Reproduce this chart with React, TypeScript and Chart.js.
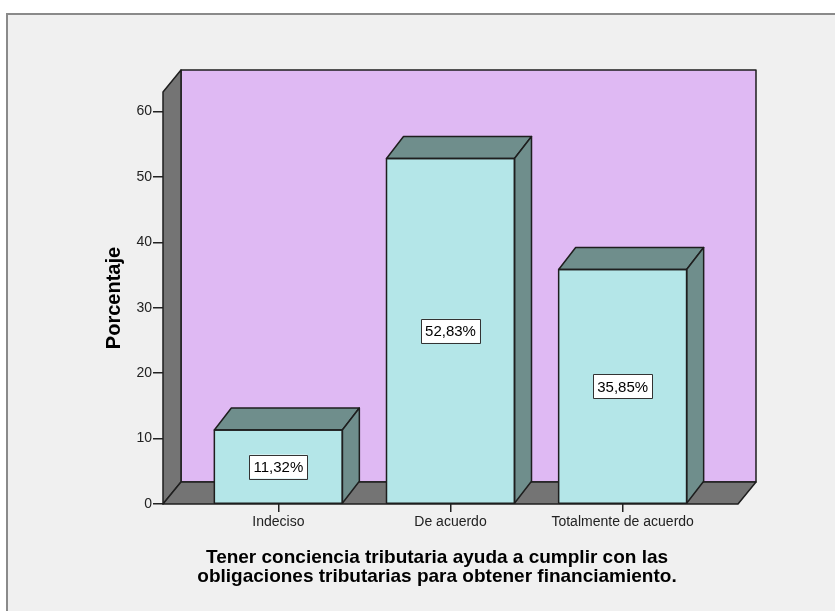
import React, { useEffect, useRef } from "react";
import { Chart, registerables } from "chart.js";

Chart.register(...registerables);

const categories = ["Indeciso", "De acuerdo", "Totalmente de acuerdo"];
const percentages = [11.32, 52.83, 35.85];
const valueLabels = ["11,32%", "52,83%", "35,85%"];
const yTickValues = [0, 10, 20, 30, 40, 50, 60];
const xTitleLines = [
  "Tener conciencia tributaria ayuda a cumplir con las",
  "obligaciones tributarias para obtener financiamiento.",
];
const yTitle = "Porcentaje";

const FONT = '"Liberation Sans", Arial, sans-serif';
const WALL_DX = 18;
const WALL_DY = -22;
const BAR_DX = 17;
const BAR_DY = -22;
const EDGE = "#1e1e1e";

const threeD = {
  id: "threeD",
  beforeDraw(chart: any) {
    const ctx = chart.ctx;
    ctx.save();
    ctx.fillStyle = "#ffffff";
    ctx.fillRect(0, 0, chart.width, chart.height);
    ctx.fillStyle = "#f0f0f0";
    ctx.fillRect(7, 13, chart.width, chart.height);
    ctx.strokeStyle = "#8a8a8a";
    ctx.lineWidth = 2;
    ctx.beginPath();
    ctx.moveTo(7, chart.height + 5);
    ctx.lineTo(7, 14);
    ctx.lineTo(chart.width + 5, 14);
    ctx.stroke();
    ctx.restore();
  },
  beforeDatasetsDraw(chart: any) {
    const { ctx, chartArea: a } = chart;
    const { left: L, right: R, top: T, bottom: B } = a;
    ctx.save();
    ctx.lineWidth = 1.5;
    ctx.strokeStyle = EDGE;
    ctx.lineJoin = "round";
    ctx.fillStyle = "#dfb9f3";
    ctx.beginPath();
    ctx.rect(L + WALL_DX, T + WALL_DY, R - L, B - T);
    ctx.fill();
    ctx.stroke();
    ctx.fillStyle = "#747474";
    ctx.beginPath();
    ctx.moveTo(L, B);
    ctx.lineTo(L, T);
    ctx.lineTo(L + WALL_DX, T + WALL_DY);
    ctx.lineTo(L + WALL_DX, B + WALL_DY);
    ctx.closePath();
    ctx.fill();
    ctx.stroke();
    ctx.beginPath();
    ctx.moveTo(L, B);
    ctx.lineTo(R, B);
    ctx.lineTo(R + WALL_DX, B + WALL_DY);
    ctx.lineTo(L + WALL_DX, B + WALL_DY);
    ctx.closePath();
    ctx.fill();
    ctx.stroke();
    ctx.restore();
  },
  afterDatasetsDraw(chart: any) {
    const ctx = chart.ctx;
    const meta = chart.getDatasetMeta(0);
    ctx.save();
    ctx.lineWidth = 1.5;
    ctx.strokeStyle = EDGE;
    ctx.lineJoin = "round";
    meta.data.forEach((el: any, i: number) => {
      const p = el.getProps(["x", "y", "base", "width"], true);
      const l = p.x - p.width / 2;
      const r = p.x + p.width / 2;
      const t = p.y;
      const b = p.base;
      ctx.fillStyle = "#6f8e8c";
      ctx.beginPath();
      ctx.moveTo(l, t);
      ctx.lineTo(l + BAR_DX, t + BAR_DY);
      ctx.lineTo(r + BAR_DX, t + BAR_DY);
      ctx.lineTo(r, t);
      ctx.closePath();
      ctx.fill();
      ctx.stroke();
      ctx.beginPath();
      ctx.moveTo(r, t);
      ctx.lineTo(r + BAR_DX, t + BAR_DY);
      ctx.lineTo(r + BAR_DX, b + BAR_DY);
      ctx.lineTo(r, b);
      ctx.closePath();
      ctx.fill();
      ctx.stroke();
      ctx.strokeRect(l, t, r - l, b - t);
      const txt = valueLabels[i];
      ctx.font = `15px ${FONT}`;
      const w = ctx.measureText(txt).width;
      const cy = (t + b) / 2;
      const bw = w + 8;
      const bh = 24;
      ctx.fillStyle = "#ffffff";
      ctx.fillRect(p.x - bw / 2, cy - bh / 2, bw, bh);
      ctx.lineWidth = 1;
      ctx.strokeStyle = "#333";
      ctx.strokeRect(Math.round(p.x - bw / 2) + 0.5, Math.round(cy - bh / 2) + 0.5, Math.round(bw), bh);
      ctx.fillStyle = "#000";
      ctx.textAlign = "center";
      ctx.textBaseline = "middle";
      ctx.fillText(txt, p.x, cy + 1);
      ctx.lineWidth = 1.5;
      ctx.strokeStyle = EDGE;
    });
    const a = chart.chartArea;
    ctx.fillStyle = "#000";
    ctx.font = `bold 19px ${FONT}`;
    ctx.textAlign = "center";
    ctx.textBaseline = "alphabetic";
    ctx.fillText(xTitleLines[0], 437, 563);
    ctx.fillText(xTitleLines[1], 437, 582);
    ctx.save();
    ctx.translate(120, (a.top + a.bottom) / 2);
    ctx.rotate(-Math.PI / 2);
    ctx.font = `bold 20px ${FONT}`;
    ctx.fillText(yTitle, 0, 0);
    ctx.restore();
    ctx.restore();
  },
};

export default function App() {
  const ref = useRef<HTMLCanvasElement>(null);
  useEffect(() => {
    document.body.style.margin = "0";
    document.body.style.overflow = "hidden";
    const chart = new Chart(ref.current as HTMLCanvasElement, {
      type: "bar",
      data: {
        datasets: [
          {
            data: percentages.map((v, i) => ({ x: i, y: v })),
            backgroundColor: "#b4e6e8",
            borderColor: EDGE,
            borderWidth: 0,
            barThickness: 128,
          },
        ],
      },
      plugins: [threeD],
      options: {
        animation: false,
        responsive: false,
        devicePixelRatio: 1,
        layout: { padding: { top: 92, right: 97, left: 0, bottom: 0 } },
        plugins: { legend: { display: false }, tooltip: { enabled: false } },
        scales: {
          x: {
            type: "linear",
            offset: false,
            min: -0.67,
            max: 2.67,
            afterFit: (s: any) => {
              s.height = 107;
            },
            afterBuildTicks: (s: any) => {
              s.ticks = categories.map((_, i) => ({ value: i }));
            },
            ticks: {
              callback: (v: any) => categories[v as number] ?? "",
              font: { family: FONT, size: 14 },
              color: "#222",
              padding: 2,
              maxRotation: 0,
              autoSkip: false,
            },
            grid: { offset: false, drawOnChartArea: false, drawTicks: true, tickLength: 8, color: "#222", lineWidth: 1.5 },
            border: { display: false },
          },
          y: {
            type: "linear",
            min: 0,
            max: 63,
            afterFit: (s: any) => {
              s.width = 163;
            },
            afterBuildTicks: (s: any) => {
              s.ticks = yTickValues.map((v) => ({ value: v }));
            },
            ticks: {
              font: { family: FONT, size: 14 },
              color: "#222",
              padding: 1,
            },
            grid: { drawOnChartArea: false, drawTicks: true, tickLength: 10, color: "#222", lineWidth: 1.5 },
            border: { display: false },
          },
        },
      },
    });
    return () => chart.destroy();
  }, []);
  return (
    <div style={{ width: 835, height: 611, overflow: "hidden" }}>
      <canvas ref={ref} width={835} height={611} style={{ display: "block", width: 835, height: 611 }} />
    </div>
  );
}
